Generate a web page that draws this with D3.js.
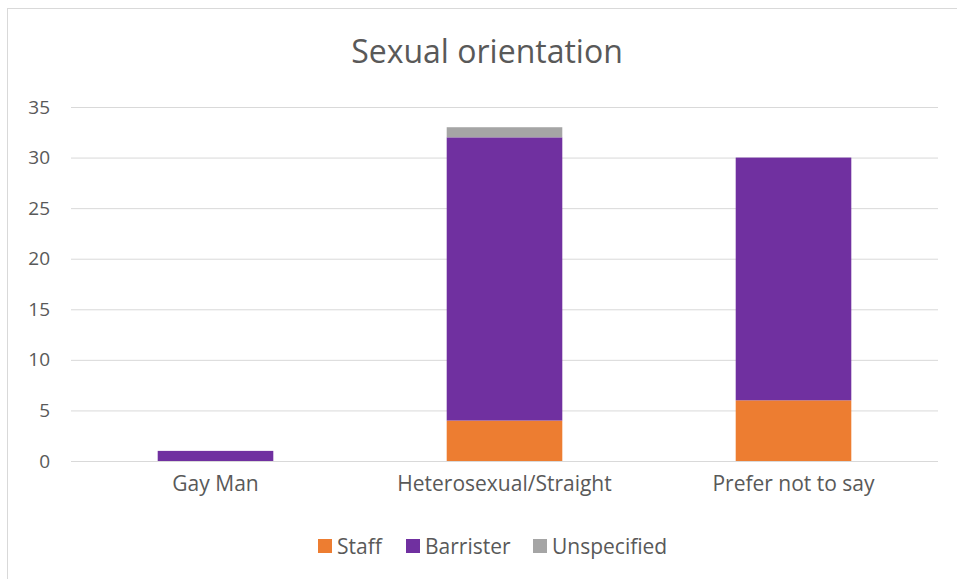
<!DOCTYPE html>
<html><head><meta charset="utf-8">
<script src="https://cdn.jsdelivr.net/npm/d3@7"></script>
<style>body{margin:0;background:#fff}svg{display:block}text{font-family:"Open Sans",Lato,sans-serif;fill:#595959}</style>
</head><body>
<svg id="c" width="957" height="579"></svg>
<script>
const categories = ["Gay Man", "Heterosexual/Straight", "Prefer not to say"];
const seriesNames = ["Staff", "Barrister", "Unspecified"];
const staff = [0, 4, 6];
const barrister = [1, 28, 24];
const unspecified = [0, 1, 0];
const colors = ["#ED7D31", "#7030A0", "#A5A5A5"];
const yTicks = [0, 5, 10, 15, 20, 25, 30, 35];
const title = "Sexual orientation";

const svg = d3.select("#c");
svg.append("rect").attr("x", 7.5).attr("y", 8.5).attr("width", 1000).attr("height", 1000)
  .attr("fill", "none").attr("stroke", "#D9D9D9").attr("stroke-width", 1);

const L = 71, R = 938, T = 107, B = 461;
const x = d3.scaleBand().domain(categories).range([L, R]).paddingInner(0.6).paddingOuter(0.3);
const y = d3.scaleLinear().domain([0, 35]).range([B, T]);

svg.append("text").attr("x", 487).attr("y", 63).attr("text-anchor", "middle")
  .style("font-size", "32px").text(title);

const yAxis = svg.append("g").attr("transform", `translate(${L},0)`)
  .call(d3.axisLeft(y).tickValues(yTicks).tickSize(-(R - L)).tickPadding(21));
yAxis.select(".domain").remove();
yAxis.selectAll(".tick line").attr("stroke", "#D9D9D9").attr("stroke-width", 1);
yAxis.selectAll(".tick text").style("font-size", "19px").attr("fill", "#595959");

const data = categories.map((c, i) => ({cat: c, Staff: staff[i], Barrister: barrister[i], Unspecified: unspecified[i]}));
const stack = d3.stack().keys(seriesNames)(data);
svg.append("g").selectAll("g").data(stack).join("g")
  .attr("fill", (d, i) => colors[i])
  .selectAll("rect").data(d => d).join("rect")
  .attr("x", d => x(d.data.cat)).attr("width", x.bandwidth())
  .attr("y", d => y(d[1])).attr("height", d => y(d[0]) - y(d[1]));

const xAxis = svg.append("g").attr("transform", `translate(0,${B})`)
  .call(d3.axisBottom(x).tickSize(0).tickPadding(15));
xAxis.select(".domain").remove();
xAxis.selectAll(".tick text").style("font-size", "21px").attr("fill", "#595959");

const legX = [318, 406, 533];
const lg = svg.append("g");
seriesNames.forEach((s, i) => {
  lg.append("rect").attr("x", legX[i]).attr("y", 539).attr("width", 14).attr("height", 14).attr("fill", colors[i]);
  lg.append("text").attr("x", legX[i] + 19).attr("y", 554).style("font-size", "21px").text(s);
});
</script>
</body></html>
